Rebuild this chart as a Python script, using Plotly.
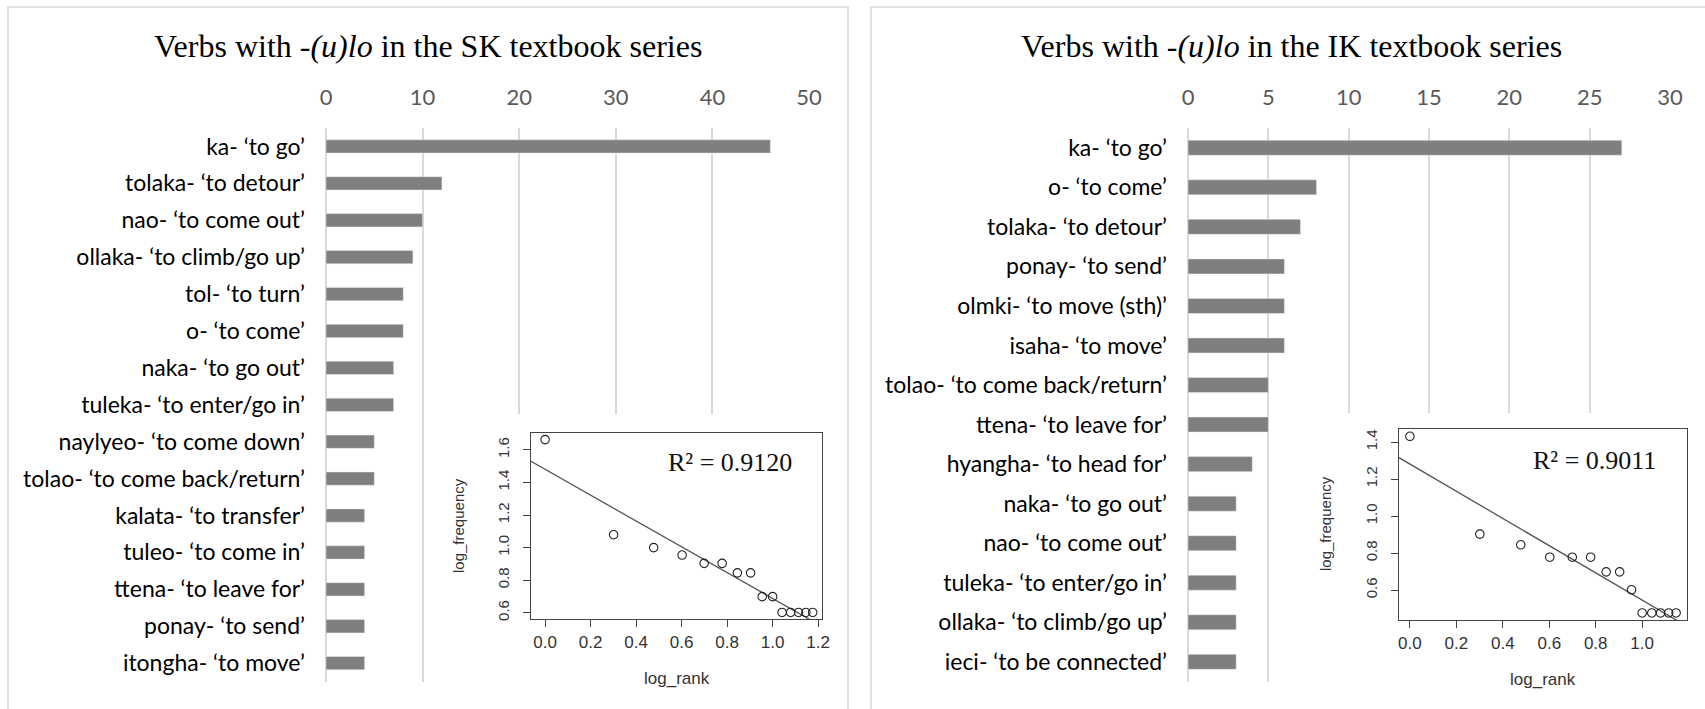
import numpy as np
import plotly.graph_objects as go

W, H = 1705, 709

# ---------------- data ----------------
sk_verbs = ["ka- ‘to go’", "tolaka- ‘to detour’", "nao- ‘to come out’", "ollaka- ‘to climb/go up’",
            "tol- ‘to turn’", "o- ‘to come’", "naka- ‘to go out’", "tuleka- ‘to enter/go in’",
            "naylyeo- ‘to come down’", "tolao- ‘to come back/return’", "kalata- ‘to transfer’",
            "tuleo- ‘to come in’", "ttena- ‘to leave for’", "ponay- ‘to send’", "itongha- ‘to move’"]
sk_freq = [46, 12, 10, 9, 8, 8, 7, 7, 5, 5, 4, 4, 4, 4, 4]

ik_verbs = ["ka- ‘to go’", "o- ‘to come’", "tolaka- ‘to detour’", "ponay- ‘to send’",
            "olmki- ‘to move (sth)’", "isaha- ‘to move’", "tolao- ‘to come back/return’",
            "ttena- ‘to leave for’", "hyangha- ‘to head for’", "naka- ‘to go out’",
            "nao- ‘to come out’", "tuleka- ‘to enter/go in’", "ollaka- ‘to climb/go up’",
            "ieci- ‘to be connected’"]
ik_freq = [27, 8, 7, 6, 6, 6, 5, 5, 4, 3, 3, 3, 3, 3]

sk_ticks = [0, 10, 20, 30, 40, 50]
ik_ticks = [0, 5, 10, 15, 20, 25, 30]
sk_inset_xticks = [0.0, 0.2, 0.4, 0.6, 0.8, 1.0, 1.2]
sk_inset_yticks = [0.6, 0.8, 1.0, 1.2, 1.4, 1.6]
ik_inset_xticks = [0.0, 0.2, 0.4, 0.6, 0.8, 1.0]
ik_inset_yticks = [0.6, 0.8, 1.0, 1.2, 1.4]
sk_r2 = "0.9120"
ik_r2 = "0.9011"
sk_title = "Verbs with -<i>(u)lo</i> in the SK textbook series"
ik_title = "Verbs with -<i>(u)lo</i> in the IK textbook series"

# ---------------- helpers ----------------
def fx(px):
    return px / W

def fy(py):
    return 1 - py / H

LABEL_FONT = "Lato"
BAR_COLOR = "#7f7f7f"
GRID = "#d9d9d9"

sk_lr = np.log10(np.arange(1, len(sk_freq) + 1))
sk_lf = np.log10(np.array(sk_freq, dtype=float))
ik_lr = np.log10(np.arange(1, len(ik_freq) + 1))
ik_lf = np.log10(np.array(ik_freq, dtype=float))
sk_fit = np.polyfit(sk_lr, sk_lf, 1)
ik_fit = np.polyfit(ik_lr, ik_lf, 1)

sk_xr = [-0.062, 1.217]
sk_yr = [0.560, 1.705]
ik_xr = [-0.047, 1.193]
ik_yr = [0.439, 1.469]

fig = go.Figure()

# bars
fig.add_trace(go.Bar(x=sk_freq, y=sk_verbs, orientation="h", marker_color=BAR_COLOR,
                     width=0.36, xaxis="x", yaxis="y", showlegend=False))
fig.add_trace(go.Bar(x=ik_freq, y=ik_verbs, orientation="h", marker_color=BAR_COLOR,
                     width=0.38, xaxis="x2", yaxis="y2", showlegend=False))

# empty traces so the backdrop subplots exist
fig.add_trace(go.Scatter(x=[], y=[], xaxis="x3", yaxis="y3", showlegend=False))
fig.add_trace(go.Scatter(x=[], y=[], xaxis="x4", yaxis="y4", showlegend=False))

# insets
for lr, lf, fit, xr, xa, ya in [(sk_lr, sk_lf, sk_fit, sk_xr, "x5", "y5"),
                                (ik_lr, ik_lf, ik_fit, ik_xr, "x6", "y6")]:
    lx = np.array(xr)
    fig.add_trace(go.Scatter(x=lx, y=np.polyval(fit, lx), mode="lines",
                             line=dict(color="#555555", width=1.3),
                             xaxis=xa, yaxis=ya, showlegend=False))
    fig.add_trace(go.Scatter(x=lr, y=lf, mode="markers",
                             marker=dict(symbol="circle-open", size=8.5, color="#222222",
                                         line=dict(width=1.1, color="#222222")),
                             xaxis=xa, yaxis=ya, showlegend=False))

bar_y_dom = [fy(681.6), fy(128)]
tickfont = dict(family=LABEL_FONT, size=22, color="#595959")
catfont = dict(family=LABEL_FONT, size=23, color="#000000")
inset_font_h = dict(family="Liberation Sans, Arial", size=17, color="#333333")
inset_font_v = dict(family="Liberation Sans, Arial", size=15, color="#333333")

def bar_x(domain, rng, ticks, anchor):
    return dict(domain=domain, range=rng, tickvals=ticks, side="top", anchor=anchor,
                showgrid=True, gridcolor=GRID, gridwidth=1.5, zeroline=True,
                zerolinecolor=GRID, zerolinewidth=1.5, showline=False, ticks="",
                tickfont=tickfont, ticklabelstandoff=18, fixedrange=True, automargin=False)

def bar_y(anchor):
    return dict(domain=bar_y_dom, anchor=anchor, autorange="reversed", type="category",
                showgrid=False, ticks="", showline=False, tickfont=catfont,
                ticklabelstandoff=20, fixedrange=True, automargin=False)

def hidden(domain, anchor):
    return dict(domain=domain, range=[0, 1], anchor=anchor, visible=False,
                showgrid=False, zeroline=False, fixedrange=True, automargin=False)

def inset_x(domain, rng, ticks, anchor):
    return dict(domain=domain, range=rng, tickvals=ticks, tickformat=".1f", anchor=anchor,
                showgrid=False, zeroline=False, showline=True, mirror=True,
                linecolor="#444444", linewidth=1.2, ticks="outside", ticklen=7,
                tickcolor="#444444", tickwidth=1.2, tickfont=inset_font_h, fixedrange=True,
                automargin=False)

def inset_y(domain, rng, ticks, anchor):
    return dict(domain=domain, range=rng, tickvals=ticks, tickformat=".1f", anchor=anchor,
                showgrid=False, zeroline=False, showline=True, mirror=True,
                linecolor="#444444", linewidth=1.2, ticks="outside", ticklen=7,
                tickcolor="#444444", tickwidth=1.2, tickfont=inset_font_v, tickangle=-90,
                ticklabelstandoff=8, fixedrange=True, automargin=False)

sk_in_xd = [fx(531), fx(822)]
sk_in_yd = [fy(619.3), fy(432.7)]
ik_in_xd = [fx(1399), fx(1687)]
ik_in_yd = [fy(620), fy(429.3)]

fig.update_layout(
    width=W, height=H, margin=dict(l=0, r=0, t=0, b=0, pad=0, autoexpand=False),
    paper_bgcolor="white", plot_bgcolor="white",
    xaxis=bar_x([fx(326), fx(809)], [0, 50], sk_ticks, "y"),
    yaxis=bar_y("x"),
    xaxis2=bar_x([fx(1188), fx(1670)], [0, 30], ik_ticks, "y2"),
    yaxis2=bar_y("x2"),
    # backdrop areas of the pasted inset pictures
    xaxis3=hidden([fx(450), fx(845)], "y3"),
    yaxis3=hidden([fy(700), fy(414)], "x3"),
    xaxis4=hidden([fx(1317), fx(1705)], "y4"),
    yaxis4=hidden([fy(697), fy(413)], "x4"),
    xaxis5=inset_x(sk_in_xd, sk_xr, sk_inset_xticks, "y5"),
    yaxis5=inset_y(sk_in_yd, sk_yr, sk_inset_yticks, "x5"),
    xaxis6=inset_x(ik_in_xd, ik_xr, ik_inset_xticks, "y6"),
    yaxis6=inset_y(ik_in_yd, ik_yr, ik_inset_yticks, "x6"),
)

shapes = [
    # chart frames
    dict(type="rect", xref="paper", yref="paper", x0=fx(8), x1=fx(848), y0=-0.1, y1=fy(7),
         line=dict(color=GRID, width=1.5), fillcolor="rgba(0,0,0,0)", layer="below"),
    dict(type="rect", xref="paper", yref="paper", x0=fx(871), x1=1.1, y0=-0.1, y1=fy(7),
         line=dict(color=GRID, width=1.5), fillcolor="rgba(0,0,0,0)", layer="below"),
    # white backgrounds of inset pictures (cover the bar-chart gridlines)
    dict(type="rect", xref="x3", yref="y3", x0=-0.01, x1=1.01, y0=-0.01, y1=1.01,
         line=dict(width=0), fillcolor="white", layer="between"),
    dict(type="rect", xref="x4", yref="y4", x0=-0.01, x1=1.01, y0=-0.01, y1=1.01,
         line=dict(width=0), fillcolor="white", layer="between"),
]
fig.update_layout(shapes=shapes)

serif = "Liberation Serif, Times New Roman, serif"
ann = [
    dict(text=sk_title, x=fx(428), y=fy(46), xref="paper", yref="paper", showarrow=False,
         xanchor="center", yanchor="middle", font=dict(family=serif, size=32, color="#000")),
    dict(text=ik_title, x=fx(1291), y=fy(46), xref="paper", yref="paper", showarrow=False,
         xanchor="center", yanchor="middle", font=dict(family=serif, size=32, color="#000")),
    dict(text="R² = " + sk_r2, x=fx(730), y=fy(462), xref="paper", yref="paper", showarrow=False,
         xanchor="center", yanchor="middle", font=dict(family=serif, size=26, color="#111")),
    dict(text="R² = " + ik_r2, x=fx(1594), y=fy(460), xref="paper", yref="paper", showarrow=False,
         xanchor="center", yanchor="middle", font=dict(family=serif, size=26, color="#111")),
    dict(text="log_rank", x=fx(677), y=fy(678), xref="paper", yref="paper", showarrow=False,
         xanchor="center", yanchor="middle", font=inset_font_h),
    dict(text="log_rank", x=fx(1543), y=fy(679), xref="paper", yref="paper", showarrow=False,
         xanchor="center", yanchor="middle", font=inset_font_h),
    dict(text="log_frequency", x=fx(458), y=fy(526), xref="paper", yref="paper", showarrow=False,
         xanchor="center", yanchor="middle", textangle=-90, font=inset_font_v),
    dict(text="log_frequency", x=fx(1325), y=fy(524), xref="paper", yref="paper", showarrow=False,
         xanchor="center", yanchor="middle", textangle=-90, font=inset_font_v),
]
fig.update_layout(annotations=ann)

fig.write_html("out.html")
